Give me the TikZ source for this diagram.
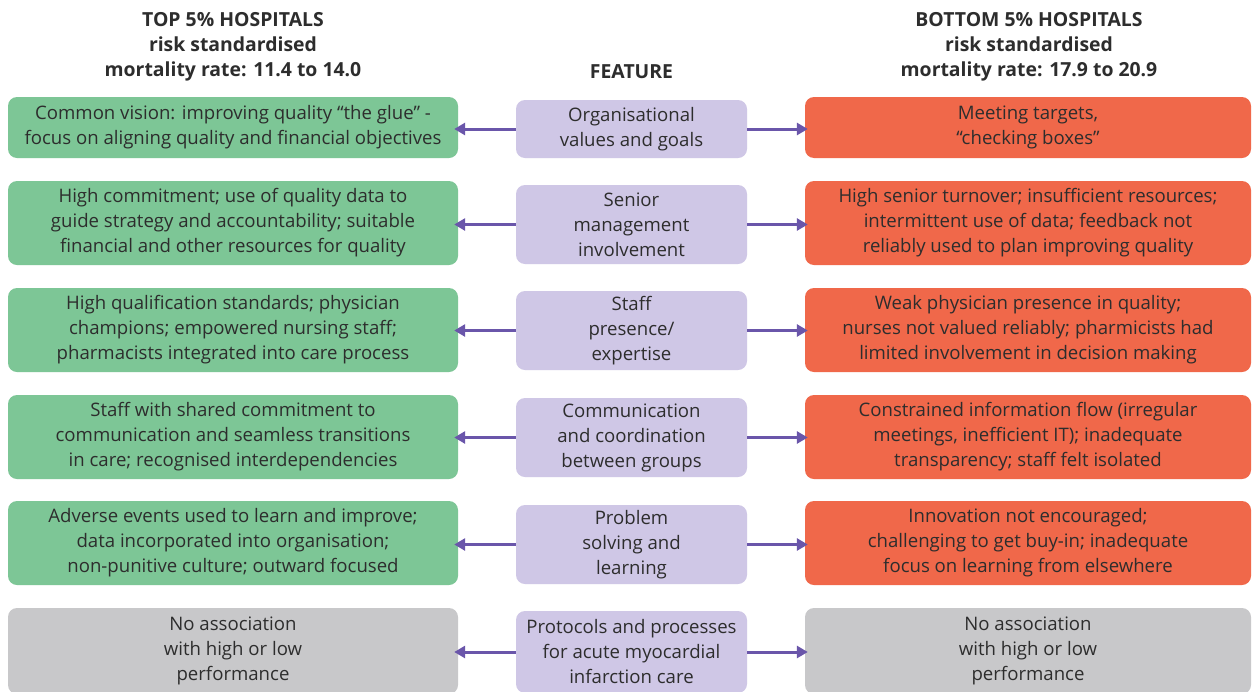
\documentclass[tikz,border=0pt]{standalone}
\usepackage{fontspec}
\setmainfont{Open Sans}
\usetikzlibrary{arrows.meta}
\definecolor{cgreen}{RGB}{125,198,150}
\definecolor{corange}{RGB}{240,104,74}
\definecolor{clav}{RGB}{207,199,230}
\definecolor{cgray}{RGB}{200,200,202}
\definecolor{carrow}{RGB}{106,86,170}
\definecolor{ctext}{RGB}{45,45,45}
\begin{document}
\begin{tikzpicture}[x=1pt,y=1pt,
  box/.style={rounded corners=9pt, align=center, text=ctext, inner sep=0pt,
    font=\fontsize{18.6}{25}\selectfont},
  lbox/.style={box, fill=cgreen, minimum width=450pt, minimum height=84pt},
  rbox/.style={box, fill=corange, minimum width=446pt, minimum height=84pt},
  gbox/.style={box, fill=cgray},
  cbox/.style={box, fill=clav, minimum width=231pt, minimum height=79pt},
  hdr/.style={align=center, text=ctext, font=\fontsize{19.4}{25}\selectfont\bfseries},
  arr/.style={-{Triangle[length=11pt,width=12pt]}, line width=3pt, carrow}]
\useasboundingbox (0,0) rectangle (1253,-691);
\fill[white] (0,0) rectangle (1253,-691);
% headers
\node[hdr] (hl) at (233,-46.5) {TOP 5\% HOSPITALS\\ risk standardised\\ mortality rate: 11.4 to 14.0};
\node[hdr] (hc) at (631.5,-71.5) {FEATURE};
\node[hdr] (hr) at (1029,-46.5) {BOTTOM 5\% HOSPITALS\\ risk standardised\\ mortality rate: 17.9 to 20.9};
% row 1
\node[lbox, minimum height=61pt] (l1) at (233,-127.5) {Common vision: improving quality ``the glue'' -\\ focus on aligning quality and financial objectives};
\node[cbox, minimum height=58pt] (c1) at (631.5,-129) {Organisational\\ values and goals};
\node[rbox, minimum height=61pt] (r1) at (1028,-127.5) {Meeting targets,\\ ``checking boxes''};
% row 2
\node[lbox] (l2) at (233,-223) {High commitment; use of quality data to\\ guide strategy and accountability; suitable\\ financial and other resources for quality};
\node[cbox] (c2) at (631.5,-224.5) {Senior\\ management\\ involvement};
\node[rbox] (r2) at (1028,-223) {High senior turnover; insufficient resources;\\ intermittent use of data; feedback not\\ reliably used to plan improving quality};
% row 3
\node[lbox] (l3) at (233,-330) {High qualification standards; physician\\ champions; empowered nursing staff;\\ pharmacists integrated into care process};
\node[cbox] (c3) at (631.5,-330.5) {Staff\\ presence/\\ expertise};
\node[rbox] (r3) at (1028,-330) {Weak physician presence in quality;\\ nurses not valued reliably; pharmicists had\\ limited involvement in decision making};
% row 4
\node[lbox] (l4) at (233,-437) {Staff with shared commitment to\\ communication and seamless transitions\\ in care; recognised interdependencies};
\node[cbox] (c4) at (631.5,-437.5) {Communication\\ and coordination\\ between groups};
\node[rbox] (r4) at (1028,-437) {Constrained information flow (irregular\\ meetings, inefficient IT); inadequate\\ transparency; staff felt isolated};
% row 5
\node[lbox] (l5) at (233,-543) {Adverse events used to learn and improve;\\ data incorporated into organisation;\\ non-punitive culture; outward focused};
\node[cbox] (c5) at (631.5,-544.5) {Problem\\ solving and\\ learning};
\node[rbox] (r5) at (1028,-543) {Innovation not encouraged;\\ challenging to get buy-in; inadequate\\ focus on learning from elsewhere};
% row 6
\node[gbox, minimum width=450pt, minimum height=86pt] (l6) at (233,-651) {No association\\ with high or low\\ performance};
\node[cbox, minimum height=82pt] (c6) at (631.5,-652) {Protocols and processes\\ for acute myocardial\\ infarction care};
\node[gbox, minimum width=446pt, minimum height=86pt] (r6) at (1028,-651) {No association\\ with high or low\\ performance};
% arrows
\foreach \i in {1,...,6}{
  \draw[arr] (c\i.west) -- ([xshift=-4pt]l\i.east |- c\i.west);
  \draw[arr] (c\i.east) -- ([xshift=3pt]r\i.west |- c\i.east);
}
\end{tikzpicture}
\end{document}
